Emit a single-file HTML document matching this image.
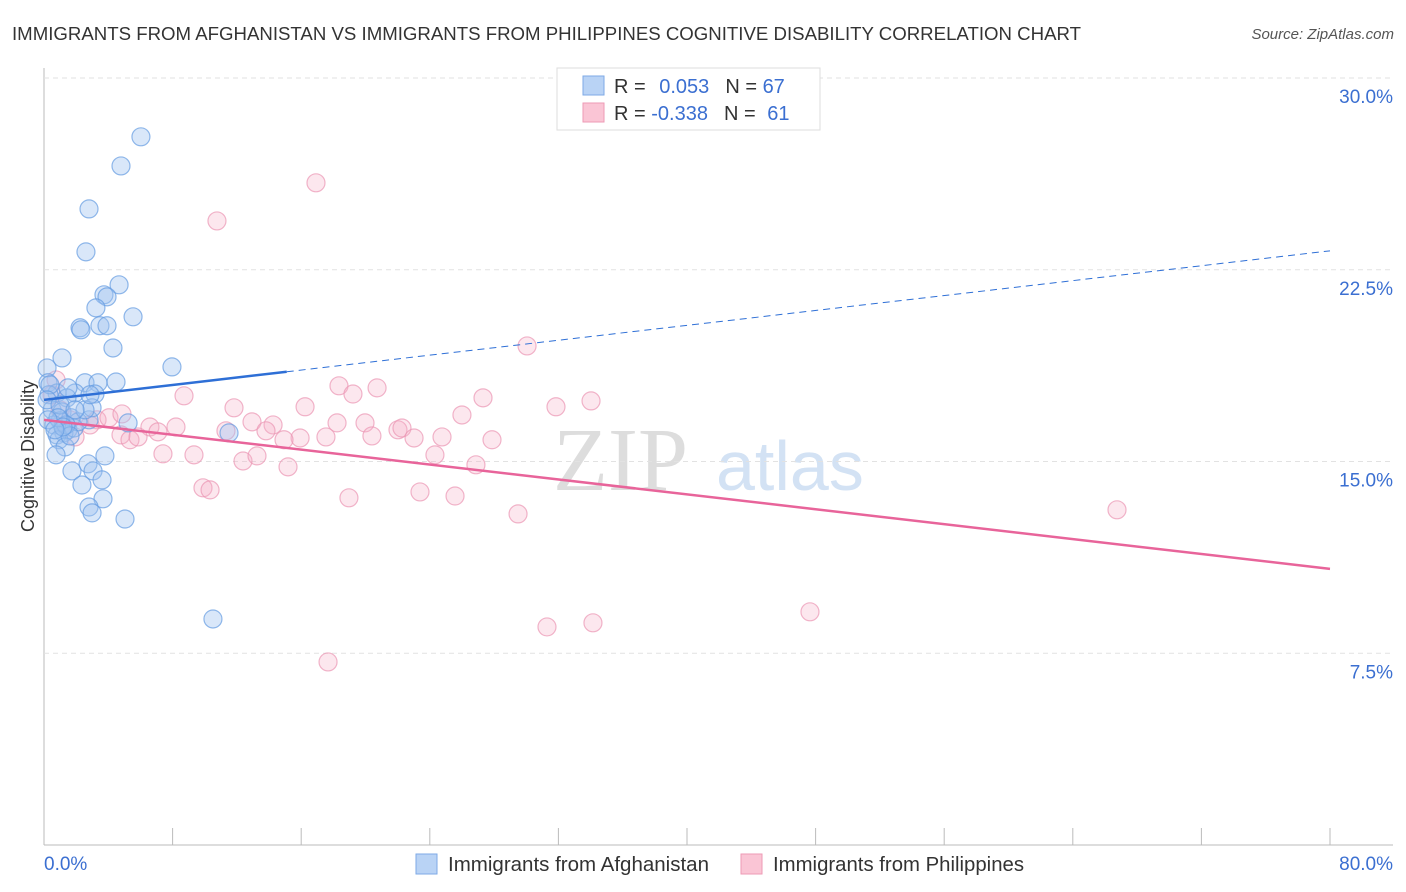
<!DOCTYPE html>
<html><head><meta charset="utf-8"><style>
body{margin:0;background:#fff;font-family:"Liberation Sans",sans-serif;}
#wrap{position:relative;width:1406px;height:892px;overflow:hidden;}
</style></head><body>
<div id="wrap">
<svg id="svg" width="1406" height="892" xmlns="http://www.w3.org/2000/svg">
<text x="12" y="40" font-size="18" fill="#333" textLength="1069" lengthAdjust="spacingAndGlyphs">IMMIGRANTS FROM AFGHANISTAN VS IMMIGRANTS FROM PHILIPPINES COGNITIVE DISABILITY CORRELATION CHART</text>
<text x="1394" y="39" font-size="15" fill="#555" font-style="italic" text-anchor="end">Source: ZipAtlas.com</text>
<text transform="translate(34,456) rotate(-90)" font-size="18" fill="#333" text-anchor="middle">Cognitive Disability</text>
<text x="553" y="490" font-size="90" fill="#ddd" font-family="Liberation Serif,serif">ZIP</text>
<text x="716" y="490" font-size="70" fill="#d3e2f4">atlas</text>
<g id="grid"></g><g id="marks"></g>
<g>
<rect x="557" y="68" width="263" height="62" fill="#fff" stroke="#ddd"/>
<rect x="583" y="76" width="21" height="19" fill="#b9d3f5" stroke="#7eaae6"/>
<rect x="583" y="103" width="21" height="19" fill="#fac5d5" stroke="#ee9ab5"/>
<text x="614" y="93" font-size="20" fill="#333">R = <tspan fill="#3b6fd1" dx="8">0.053</tspan><tspan fill="#333" dx="16">N = </tspan><tspan fill="#3b6fd1">67</tspan></text>
<text x="614" y="120" font-size="20" fill="#333">R = <tspan fill="#3b6fd1">-0.338</tspan><tspan fill="#333" dx="16">N = </tspan><tspan fill="#3b6fd1" dx="6">61</tspan></text>
</g>
<g>
<rect x="416" y="854" width="21" height="20" fill="#b9d3f5" stroke="#7eaae6"/>
<text x="448" y="871" font-size="20" fill="#333" textLength="261" lengthAdjust="spacingAndGlyphs">Immigrants from Afghanistan</text>
<rect x="741" y="854" width="21" height="20" fill="#fac5d5" stroke="#ee9ab5"/>
<text x="773" y="871" font-size="20" fill="#333" textLength="251" lengthAdjust="spacingAndGlyphs">Immigrants from Philippines</text>
</g>
</svg>
</div>
<script>
const yTicks=[7.5,15,22.5,30];
const yTickLabels=["7.5%","15.0%","22.5%","30.0%"];
const xTickLabels=["0.0%","80.0%"];
const blueX=[6.03,4.79,2.80,2.61,4.67,3.73,3.92,3.23,5.54,2.24,2.30,3.48,3.92,4.29,1.12,7.96,0.19,0.25,2.55,3.36,4.48,0.81,1.93,1.43,3.17,0.31,0.50,1.12,2.80,1.68,1.00,0.62,1.49,1.24,1.87,0.81,2.99,5.23,11.51,0.93,1.31,3.79,0.75,1.74,2.74,3.05,3.61,2.36,3.67,2.80,2.99,5.04,10.51,0.37,0.19,1.00,2.12,1.37,1.62,2.55,0.87,1.18,0.25,1.93,2.86,1.49,0.68];
const blueY=[27.70,26.56,24.88,23.20,21.91,21.52,21.44,21.01,20.66,20.23,20.15,20.31,20.31,19.44,19.05,18.70,18.66,18.08,18.08,18.08,18.11,17.68,17.68,17.49,17.64,17.61,17.02,16.94,16.63,16.71,16.59,16.43,16.24,16.12,16.31,16.04,17.10,16.51,16.12,15.85,15.57,15.22,15.26,14.63,14.91,14.63,14.28,14.08,13.54,13.22,12.99,12.75,8.84,18.00,17.41,17.21,16.55,16.43,16.00,17.02,16.71,16.35,16.63,17.02,17.61,17.88,16.24];
const pinkX=[16.92,10.76,30.05,0.75,18.35,20.72,19.22,8.71,27.31,34.03,16.24,31.85,11.82,26.00,18.23,19.97,3.30,4.04,4.85,6.59,8.21,12.94,14.25,11.32,7.09,22.02,22.27,13.81,20.40,24.76,17.54,15.93,23.02,27.87,14.93,4.79,5.35,5.85,1.93,2.86,7.40,9.33,12.38,13.25,24.32,26.87,15.18,9.89,10.33,23.39,18.97,25.57,29.49,66.75,47.65,31.29,34.15,17.67,0.50,1.00,1.62];
const pinkY=[25.90,24.41,19.52,18.19,17.96,17.88,17.64,17.57,17.49,17.37,17.14,17.14,17.10,16.82,16.51,16.51,16.63,16.71,16.86,16.35,16.35,16.55,16.43,16.20,16.16,16.24,16.31,16.20,16.00,15.96,15.96,15.92,15.92,15.85,15.85,16.04,15.85,15.96,15.96,16.43,15.30,15.26,15.02,15.22,15.26,14.87,14.79,13.97,13.89,13.81,13.58,13.65,12.95,13.11,9.12,8.53,8.69,7.16,17.61,17.02,16.63];
const blueTrend=[17.41,23.24];
const pinkTrend=[16.63,10.80];
const NS="http://www.w3.org/2000/svg";
const X0=44,X1=1330,Y0=845,Y30=78;
function sx(v){return X0+(X1-X0)*v/80;}
function sy(v){return Y0-(Y0-Y30)*v/30;}
function mk(tag,attrs,parent){const e=document.createElementNS(NS,tag);for(const k in attrs)e.setAttribute(k,attrs[k]);parent.appendChild(e);return e;}
const grid=document.getElementById('grid'),marks=document.getElementById('marks');
let l=mk('line',{x1:X0,y1:68,x2:X0,y2:Y0,stroke:'#bbb'},grid);


l=mk('line',{x1:X0,y1:Y0,x2:1393,y2:Y0,stroke:'#bbb'},grid);


yTicks.forEach((t,i)=>{
 const g=mk('line',{x1:X0,y1:sy(t),x2:1393,y2:sy(t),stroke:'#e2e2e2','stroke-dasharray':'5,4'},grid);
 
 
 const tx=mk('text',{x:1393,y:sy(t)+25,'font-size':19,fill:'#3b6fd1','text-anchor':'end'},grid);
 tx.textContent=yTickLabels[i];
 
 
});
for(let i=0;i<=10;i++){
 const t=mk('line',{x1:sx(i*8),y1:828,x2:sx(i*8),y2:Y0,stroke:'#bbb'},grid);
 
 
}
let xl=mk('text',{x:44,y:870,'font-size':19,fill:'#3b6fd1'},grid);xl.textContent=xTickLabels[0];


xl=mk('text',{x:1393,y:870,'font-size':19,fill:'#3b6fd1','text-anchor':'end'},grid);xl.textContent=xTickLabels[1];


pinkX.forEach((v,i)=>{
 const c=mk('circle',{cx:sx(v),cy:sy(pinkY[i]),r:9,fill:'rgba(245,175,198,0.3)',stroke:'rgba(235,150,180,0.7)','stroke-width':1.2},marks);
 
 
});
blueX.forEach((v,i)=>{
 const c=mk('circle',{cx:sx(v),cy:sy(blueY[i]),r:9,fill:'rgba(160,196,240,0.4)',stroke:'rgba(100,155,225,0.7)','stroke-width':1.2},marks);
 
 
});
function ty(tr,x){return tr[0]+(tr[1]-tr[0])*x/80;}
let t1=mk('line',{x1:sx(0),y1:sy(ty(blueTrend,0)),x2:sx(15.1),y2:sy(ty(blueTrend,15.1)),stroke:'#2e6fd6','stroke-width':2.5},marks);


t1=mk('line',{x1:sx(15.1),y1:sy(ty(blueTrend,15.1)),x2:sx(80),y2:sy(ty(blueTrend,80)),stroke:'#2e6fd6','stroke-width':1,'stroke-dasharray':'7,5'},marks);


t1=mk('line',{x1:sx(0),y1:sy(ty(pinkTrend,0)),x2:sx(80),y2:sy(ty(pinkTrend,80)),stroke:'#e8649a','stroke-width':2.5},marks);


</script>
</body></html>
